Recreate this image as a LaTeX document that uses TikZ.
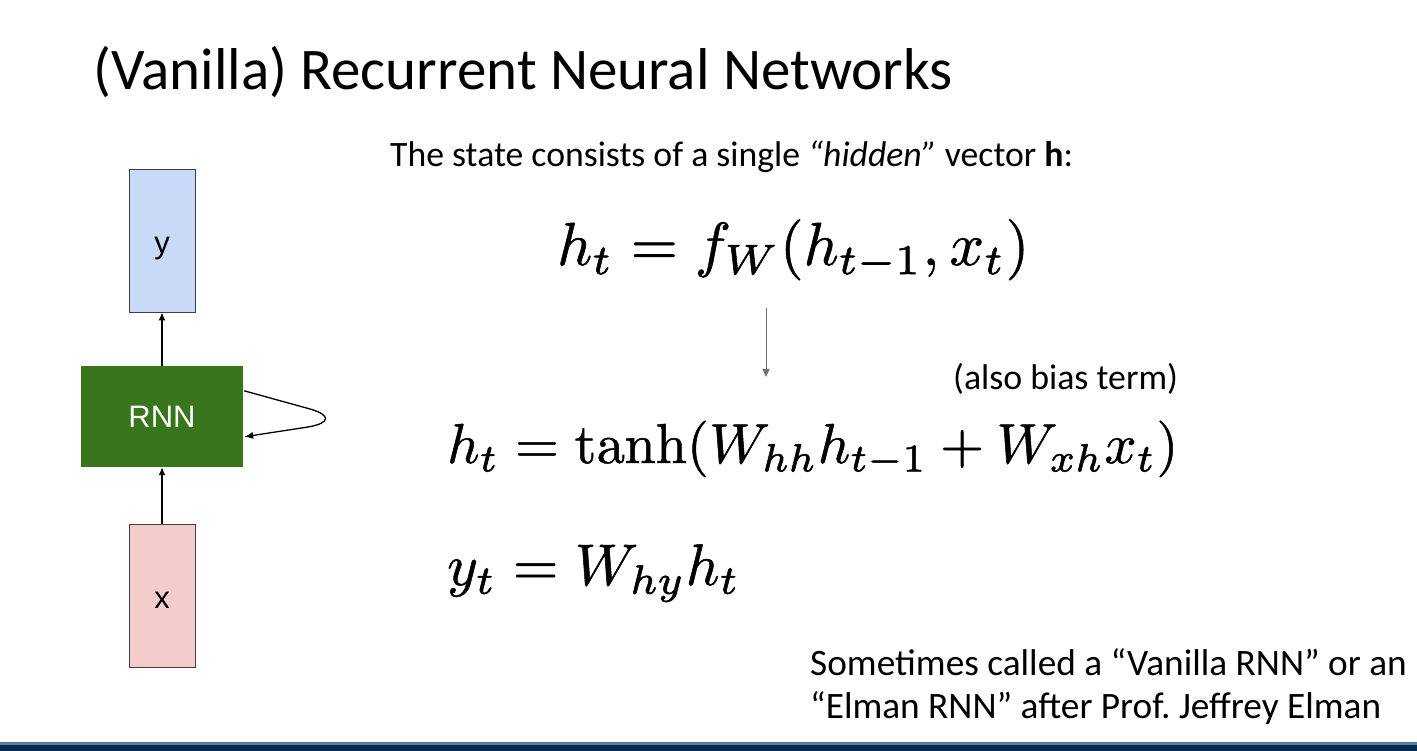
\documentclass[tikz,border=0pt]{standalone}
\usepackage{amsmath}
\usepackage[no-math]{fontspec}
\usepackage{graphicx}
\setmainfont{Carlito}
\newfontfamily\boxfont{Liberation Sans}
\usetikzlibrary{arrows.meta,calc}
\frenchspacing
\definecolor{ybox}{HTML}{C9DAF8}
\definecolor{xbox}{HTML}{F4CCCC}
\definecolor{rnnbox}{HTML}{38761D}
\definecolor{navy}{HTML}{002A50}
\definecolor{navyline}{HTML}{5A7AA3}
\definecolor{grayarrow}{HTML}{707070}
\newcommand{\heavymath}[1]{\special{pdf:literal 2 Tr 0.09 w}#1\special{pdf:literal 0 Tr}}
\tikzset{
  vecbox/.style={draw=black!75, line width=0.8pt, minimum width=66pt, minimum height=143pt, inner sep=0pt, text height=26.7pt, text depth=0pt, font=\boxfont\fontsize{31}{33}\selectfont},
  rnnstyle/.style={fill=rnnbox, draw=none, minimum width=162pt, minimum height=101pt, inner sep=0pt, text=white, font=\boxfont\fontsize{31}{33}\selectfont},
  conn/.style={line width=1.3pt, -{Latex[length=8pt,width=7pt]}},
  txt/.style={inner sep=0pt, anchor=base west},
}
\begin{document}
\begin{tikzpicture}[x=1pt,y=-1pt]
\useasboundingbox (0,0) rectangle (1417,751);
\fill[white] (0,0) rectangle (1417,751);
% bottom bar
\fill[navyline] (0,742) rectangle (1417,745);
\fill[navy] (0,745) rectangle (1417,751);
% title
\node[txt, font=\fontsize{59}{63}\selectfont] (title) at (93,90) {(Vanilla) Recurrent Neural Networks};
% subtitle
\node[txt, font=\fontsize{35.7}{38}\selectfont] (sub) at (390,167) {The state consists of a single \emph{“hidden”} vector \textbf{h}:};
% boxes
\node[vecbox, fill=ybox] (y) at (162,240.5) {y};
\node[rnnstyle] (rnn) at (162,416.5) {RNN};
\node[vecbox, fill=xbox] (x) at (162,595.5) {x};
\draw[conn] (rnn.north) -- (y.south);
\draw[conn] (x.north) -- (rnn.south);
\coordinate (loopA) at ($(rnn.north east)+(1,25)$);
\coordinate (loopB) at ($(rnn.north east)+(1,71)$);
\draw[line width=1.3pt, -{Latex[length=9pt,width=7pt]}] (loopA) -- (310,409) .. controls (331,415) and (331,423) .. (308,427) -- (loopB);
% equations
\node[txt] (eq1) at (557,265) {\resizebox{472pt}{!}{\heavymath{$h_t = f_W(h_{t-1}, x_t)$}}};
\coordinate (arrA) at (766,308);
\coordinate (arrB) at (766,377);
\draw[grayarrow, line width=1pt, -{Triangle[length=8pt,width=7pt]}] (arrA) -- (arrB);
\node[txt, font=\fontsize{35.8}{38}\selectfont] (bias) at (953,389) {(also bias term)};
\node[txt] (eq2) at (447,463) {\resizebox{731pt}{!}{\heavymath{$h_t = \tanh(W_{hh}h_{t-1} + W_{xh}x_t)$}}};
\node[txt] (eq3) at (447,585) {\resizebox{293pt}{!}{\heavymath{$y_t = W_{hy}h_t$}}};
% note
\node[txt, font=\fontsize{37.3}{40}\selectfont] (note1) at (810,675) {Sometimes called a “Vanilla RNN” or an};
\node[txt, font=\fontsize{37.3}{40}\selectfont] (note2) at (810,718) {“Elman RNN” after Prof. Jeffrey Elman};
\end{tikzpicture}
\end{document}
